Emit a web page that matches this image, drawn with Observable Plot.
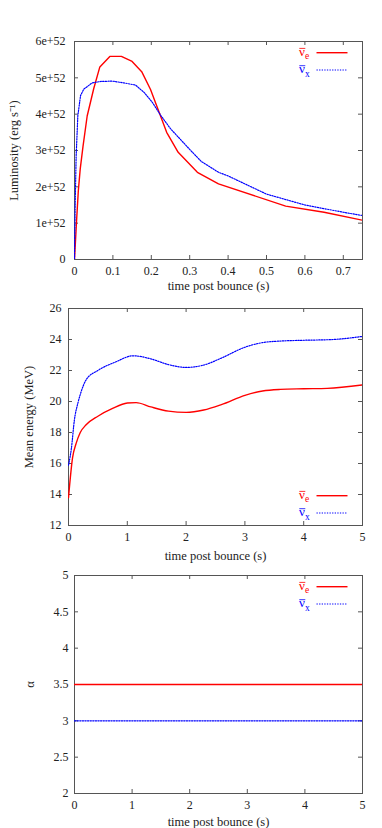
<!DOCTYPE html>
<html><head><meta charset="utf-8">
<script src="https://cdn.jsdelivr.net/npm/d3@7"></script>
<script src="https://cdn.jsdelivr.net/npm/@observablehq/plot@0.6"></script>
<style>
html,body{margin:0;padding:0;background:#fff;}
#root{position:relative;width:382px;height:828px;overflow:hidden;}
#root svg{position:absolute;left:0;}
</style></head><body><div id="root"></div>
<script>
// ---------- Panel 1: luminosity (units of 1e52 erg/s) ----------
const lumTimeE = [0, 0.005, 0.01, 0.015, 0.022, 0.033, 0.05, 0.066, 0.092, 0.122, 0.15, 0.175, 0.198, 0.24, 0.27, 0.32, 0.375, 0.55, 0.65, 0.75];
const lumE     = [0, 1.0, 1.9, 2.5, 3.1, 3.95, 4.7, 5.3, 5.59, 5.59, 5.45, 5.17, 4.68, 3.5, 2.95, 2.4, 2.08, 1.47, 1.3, 1.08];
const lumTimeX = [0, 0.0017, 0.0043, 0.0087, 0.0157, 0.0243, 0.046, 0.068, 0.098, 0.129, 0.159, 0.181, 0.203, 0.225, 0.25, 0.3, 0.33, 0.375, 0.4, 0.5, 0.6, 0.7, 0.75];
const lumX     = [0, 1.47, 2.85, 3.96, 4.51, 4.69, 4.86, 4.9, 4.91, 4.86, 4.8, 4.6, 4.32, 3.96, 3.6, 3.03, 2.7, 2.4, 2.3, 1.8, 1.5, 1.3, 1.21];
const lumXTicks = [0, 0.1, 0.2, 0.3, 0.4, 0.5, 0.6, 0.7];
const lumYTicks = [0, 1, 2, 3, 4, 5, 6];
const lumYTickLabels = ["0", "1e+52", "2e+52", "3e+52", "4e+52", "5e+52", "6e+52"];

// ---------- Panel 2: mean energy (MeV) ----------
const enTimeE = [0, 0.07, 0.13, 0.2, 0.3, 0.5, 0.75, 1.0, 1.15, 1.4, 1.7, 2.0, 2.3, 2.6, 3.0, 3.3, 3.6, 4.0, 4.4, 5.0];
const enE     = [13.8, 16.4, 17.3, 18.0, 18.5, 19.05, 19.55, 19.9, 19.93, 19.65, 19.38, 19.3, 19.45, 19.8, 20.4, 20.68, 20.78, 20.82, 20.85, 21.07];
const enTimeX = [0, 0.05, 0.1, 0.16, 0.2, 0.3, 0.5, 0.8, 1.1, 1.4, 1.7, 2.0, 2.3, 2.6, 3.0, 3.3, 3.6, 4.0, 4.5, 5.0];
const enX     = [15.9, 17.0, 18.8, 19.9, 20.45, 21.4, 22.0, 22.55, 22.95, 22.75, 22.38, 22.2, 22.35, 22.8, 23.5, 23.8, 23.9, 23.95, 24.0, 24.2];
const enXTicks = [0, 1, 2, 3, 4, 5];
const enYTicks = [12, 14, 16, 18, 20, 22, 24, 26];

// ---------- Panel 3: alpha ----------
const alTime = [0, 5];
const alE = [3.5, 3.5];
const alX = [3.0, 3.0];
const alXTicks = [0, 1, 2, 3, 4, 5];
const alYTicks = [2, 2.5, 3, 3.5, 4, 4.5, 5];

const xTitle = "time post bounce (s)";
const FONT = "'Liberation Serif', 'Times New Roman', serif";
const RED = "#ff0000", BLUE = "#0000ff", FRAME = "#555", TXT = "#222";

const root = document.getElementById("root");

function panel(o) {
  const W = 382, mr = 20;
  const innerW = W - o.ml - mr, innerH = o.height - o.mt - o.mb;
  const fmtY = o.yLabels ? (d => o.yLabels[o.yTicks.indexOf(d)]) : (d => String(d));
  const marks = [
    Plot.frame({stroke: FRAME}),
    Plot.tickX(o.xTicks, {x: d => d, insetTop: innerH - 4, stroke: FRAME}),
    Plot.tickX(o.xTicks, {x: d => d, insetBottom: innerH - 4, stroke: FRAME}),
    Plot.tickY(o.yTicks, {y: d => d, insetRight: innerW - 4, stroke: FRAME}),
    Plot.tickY(o.yTicks, {y: d => d, insetLeft: innerW - 4, stroke: FRAME}),
    Plot.axisX(o.xTicks, {tickSize: 0, tickPadding: 7, label: null, fill: TXT, fontSize: 12, tickFormat: d => String(d)}),
    Plot.axisY(o.yTicks, {tickSize: 0, tickPadding: o.yPad, label: null, fill: TXT, fontSize: 12, tickFormat: fmtY}),
    Plot.line(o.tE, {x: o.tE, y: o.vE, stroke: RED, strokeWidth: 1.4, curve: o.curve, clip: true}),
    Plot.line(o.tX, {x: o.tX, y: o.vX, stroke: BLUE, strokeWidth: 1.2, strokeDasharray: "1.3,1.3", curve: o.curve, clip: true}),
    Plot.text([o.yTitle], {text: d => d, frameAnchor: "left", dx: o.yTitleDx, rotate: -90, textAnchor: "middle", lineAnchor: "middle", fontSize: 12.5, fill: TXT}),
    Plot.text([xTitle], {text: d => d, frameAnchor: "bottom", dy: o.xTitleDy, textAnchor: "middle", lineAnchor: "middle", fontSize: 12.5, fill: TXT})
  ];
  const svg = Plot.plot({
    width: W, height: o.height,
    marginTop: o.mt, marginBottom: o.mb, marginLeft: o.ml, marginRight: mr,
    x: {domain: o.xDomain},
    y: {domain: o.yDomain},
    style: {fontFamily: FONT, fontSize: "12px", color: TXT, background: "transparent", overflow: "visible"},
    marks
  });
  svg.style.top = o.top + "px";
  // legend
  const right = W - mr, top = o.mt, bottom = o.height - o.mb;
  const rows = o.legendBottom ? [bottom - 29.3, bottom - 12] : [top + 11.7, top + 29];
  const g = d3.select(svg).append("g").attr("class", "legend").attr("font-family", FONT);
  [["e", RED, null, 1.4], ["x", BLUE, "1.3,1.3", 1.2]].forEach(([sub, col, dash, sw], i) => {
    const y = rows[i];
    const x0 = right - 63;
    const t = g.append("text").attr("x", x0).attr("y", y + 3).attr("text-anchor", "start")
      .attr("fill", col).attr("font-size", 13);
    t.append("tspan").text("\u03bd");
    t.append("tspan").attr("dy", 3.5).attr("font-size", 9.5).text(sub);
    // macron (bar) over nu
    g.append("line").attr("x1", x0 + 0.3).attr("x2", x0 + 6.3).attr("y1", y - 4.3).attr("y2", y - 4.3)
      .attr("stroke", col).attr("stroke-width", 0.8);
    g.append("line").attr("x1", right - 45.5).attr("x2", right - 14.5).attr("y1", y).attr("y2", y)
      .attr("stroke", col).attr("stroke-width", sw).attr("stroke-dasharray", dash);
  });
  root.appendChild(svg);
}

panel({top: 0, height: 292, mt: 41, mb: 33, ml: 74, xDomain: [0, 0.75], yDomain: [0, 6],
  xTicks: lumXTicks, yTicks: lumYTicks, yLabels: lumYTickLabels, yPad: 9,
  tE: lumTimeE, vE: lumE, tX: lumTimeX, vX: lumX, curve: "linear",
  yTitle: "Luminosity (erg s\u207b\u00b9)", yTitleDx: -60.7, xTitleDy: 26.7, legendBottom: false});

panel({top: 292, height: 268, mt: 16, mb: 35, ml: 68, xDomain: [0, 5], yDomain: [12, 26],
  xTicks: enXTicks, yTicks: enYTicks, yPad: 7,
  tE: enTimeE, vE: enE, tX: enTimeX, vX: enX, curve: "monotone-x",
  yTitle: "Mean energy (MeV)", yTitleDx: -39.7, xTitleDy: 30.7, legendBottom: true});

panel({top: 560, height: 268, mt: 15, mb: 35, ml: 74, xDomain: [0, 5], yDomain: [2, 5],
  xTicks: alXTicks, yTicks: alYTicks, yPad: 6,
  tE: alTime, vE: alE, tX: alTime, vX: alX, curve: "linear",
  yTitle: "\u03b1", yTitleDx: -45, xTitleDy: 28.5, legendBottom: false});
</script></body></html>
